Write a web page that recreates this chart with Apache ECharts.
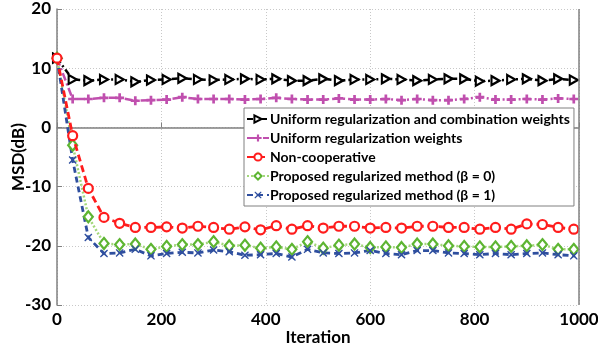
<!DOCTYPE html>
<html><head><meta charset="utf-8">
<script src="https://cdn.jsdelivr.net/npm/echarts@6/dist/echarts.min.js"></script>
<style>html,body{margin:0;padding:0;background:#fff}#c{width:598px;height:347px}</style>
</head><body><div id="c"></div>
<script>
var iterations = [0,30,60,90,120,150,180,210,240,270,300,330,360,390,420,450,480,510,540,570,600,630,660,690,720,750,780,810,840,870,900,930,960,990];
var uniformRegComb = [11.7,8.1,7.9,8.1,8.1,7.7,8.0,8.1,8.3,8.1,8.0,8.1,8.2,8.1,8.2,7.9,7.9,8.2,7.9,8.1,8.1,8.2,8.1,7.9,8.1,8.2,8.2,7.8,7.9,8.1,8.2,7.9,8.2,8.0];
var uniformReg = [11.7,4.8,4.8,5.0,5.0,4.5,4.6,4.7,5.1,4.8,4.8,4.8,4.7,4.8,5.0,4.8,4.7,4.7,4.9,4.7,4.7,4.8,4.6,4.8,4.6,4.6,4.8,5.1,4.7,4.7,4.8,4.7,4.9,4.8];
var nonCoop = [11.7,-1.4,-10.3,-15.2,-16.2,-16.9,-16.9,-16.8,-17.0,-16.7,-16.9,-17.2,-16.8,-17.3,-16.6,-17.2,-16.6,-17.0,-16.7,-16.7,-17.0,-16.9,-17.0,-16.7,-16.7,-16.9,-16.9,-17.2,-16.9,-17.2,-16.3,-16.4,-16.9,-17.2];
var proposedB0 = [11.7,-3.0,-15.1,-19.6,-19.8,-19.7,-20.6,-20.1,-19.8,-19.8,-19.3,-20.0,-19.9,-20.4,-20.2,-20.6,-19.3,-20.4,-19.9,-19.7,-20.3,-20.2,-20.3,-19.7,-19.7,-20.0,-20.1,-20.2,-20.2,-20.1,-20.0,-19.8,-20.6,-20.6];
var proposedB1 = [11.7,-5.5,-18.6,-21.3,-21.2,-20.6,-21.7,-21.3,-21.1,-21.2,-20.7,-21.0,-21.6,-21.5,-21.3,-21.9,-20.6,-21.2,-21.3,-21.2,-20.8,-21.3,-21.5,-20.8,-20.8,-21.2,-21.3,-21.5,-21.3,-21.5,-21.3,-21.2,-21.5,-21.7];
var seriesNames = ['Uniform regularization and combination weights','Uniform regularization weights','Non-cooperative','Proposed regularized method (\u03b2 = 0)','Proposed regularized method (\u03b2 = 1)'];
var xTicks = [0,200,400,600,800,1000];
var yTicks = [-30,-20,-10,0,10,20];

function pairs(v){ return iterations.map(function(x,i){return [x,v[i]];}); }
var FONT = 'Lato, "Open Sans", sans-serif';
var chart = echarts.init(document.getElementById('c'));
var triRight = 'path://M0,0 L10,5 L0,10 Z';
var plus = 'path://M3.5,0 H6.5 V3.5 H10 V6.5 H6.5 V10 H3.5 V6.5 H0 V3.5 H3.5 Z';
var cross = 'path://M1,0 L5,3.5 L9,0 L10,1.2 L6.5,5 L10,8.8 L9,10 L5,6.5 L1,10 L0,8.8 L3.5,5 L0,1.2 Z';
chart.setOption({
  animation:false,
  grid:{left:57,right:19,top:9,bottom:42,containLabel:false,outerBoundsMode:'none'},
  xAxis:{type:'value',min:xTicks[0],max:xTicks[xTicks.length-1],interval:200,
    name:'Iteration',nameLocation:'middle',nameGap:24,nameMoveOverlap:false,
    nameTextStyle:{fontFamily:FONT,fontWeight:'bold',fontSize:17,color:'#000'},
    axisLine:{lineStyle:{color:'#808080',width:1.5}},
    axisTick:{inside:true,length:5,lineStyle:{color:'#808080'}},
    axisLabel:{fontFamily:FONT,fontWeight:'bold',fontSize:17,color:'#000',margin:6,formatter:function(v){return String(v);}},
    splitLine:{show:true,lineStyle:{color:'#c8c8c8',type:[1,2]}}},
  yAxis:{type:'value',min:yTicks[0],max:yTicks[yTicks.length-1],interval:10,
    name:'MSD(dB)',nameLocation:'middle',nameGap:30,nameMoveOverlap:false,
    nameTextStyle:{fontFamily:FONT,fontWeight:'bold',fontSize:17,color:'#000'},
    axisLine:{show:true,lineStyle:{color:'#808080',width:1.5}},
    axisTick:{show:true,inside:true,length:5,lineStyle:{color:'#808080'}},
    axisLabel:{fontFamily:FONT,fontWeight:'bold',fontSize:17,color:'#000',margin:6,formatter:function(v){return String(v);}},
    splitLine:{show:true,lineStyle:{color:'#c8c8c8',type:[1,2]}}},
  legend:{orient:'vertical',left:244,top:108,
    backgroundColor:'#fff',borderColor:'#808080',borderWidth:1,borderRadius:0,
    padding:[4,4,4,2],itemGap:5,itemWidth:22,itemHeight:9,
    textStyle:{fontFamily:FONT,fontWeight:'bold',fontSize:14,color:'#000',padding:[0,0,0,-4]},
    data:seriesNames},
  series:[
    {name:seriesNames[0],type:'line',data:pairs(uniformRegComb),symbol:triRight,symbolSize:[8,9],
      itemStyle:{color:'#fff',borderColor:'#000',borderWidth:2.2},
      lineStyle:{color:'#000',width:2.5,type:[6,3,2,3]},z:2},
    {name:seriesNames[1],type:'line',data:pairs(uniformReg),symbol:plus,symbolSize:9,
      itemStyle:{color:'#c04fae',borderWidth:0},
      lineStyle:{color:'#c04fae',width:2.5,type:[8,3,2,3]},z:2},
    {name:seriesNames[2],type:'line',data:pairs(nonCoop),symbol:'circle',symbolSize:9,
      itemStyle:{color:'#fff',borderColor:'#ff1c1c',borderWidth:2.2},
      lineStyle:{color:'#ff1c1c',width:2.8,type:[7,4]},z:5},
    {name:seriesNames[3],type:'line',data:pairs(proposedB0),symbol:'diamond',symbolSize:[9,11],
      itemStyle:{color:'#fff',borderColor:'#5db532',borderWidth:2.2},
      lineStyle:{color:'#a3d77a',width:2.5,type:[2,2]},z:3},
    {name:seriesNames[4],type:'line',data:pairs(proposedB1),symbol:cross,symbolSize:8,
      itemStyle:{color:'#2f4f9f',borderWidth:0},
      lineStyle:{color:'#2f4f9f',width:2.8,type:[6,4]},z:3}
  ],
  graphic:[{type:'line',shape:{x1:579,y1:9,x2:579,y2:305},style:{stroke:'#808080',lineWidth:1.5},z:10}]
});
</script></body></html>
